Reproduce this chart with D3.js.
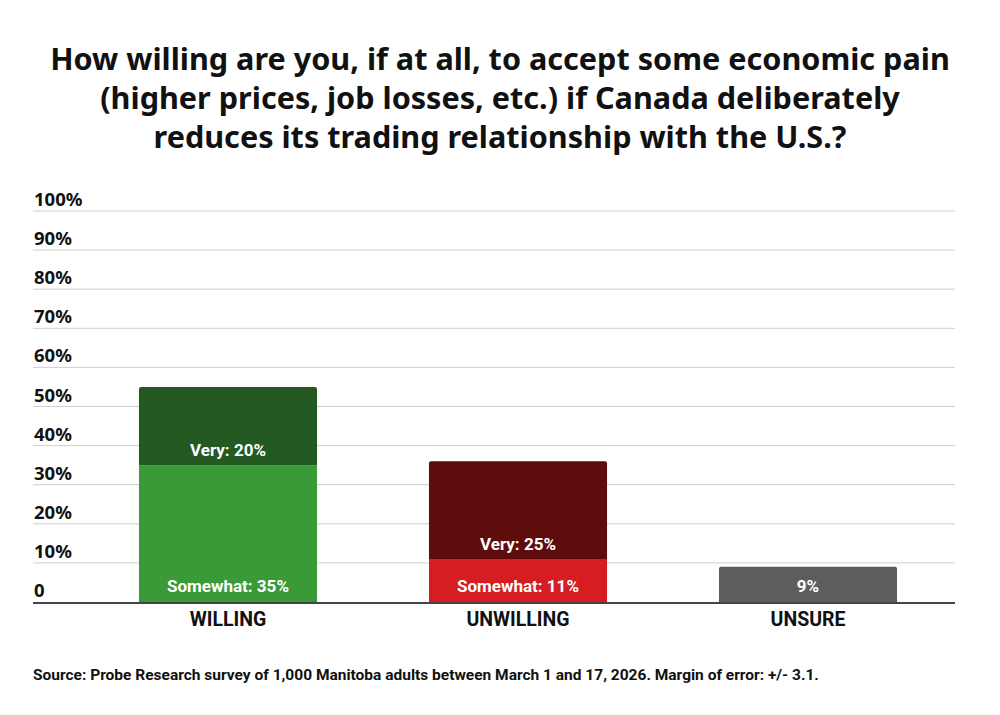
<!DOCTYPE html>
<meta charset="utf-8">
<title>Economic pain</title>
<script src="https://d3js.org/d3.v7.min.js"></script>
<style>
    body { margin: 0; background: #fff; }
    .title { font-family: "Noto Sans", sans-serif; font-weight: 700; fill: #111; }
    .tick-label { font-family: "Noto Sans", sans-serif; font-weight: 700; font-size: 18.5px; fill: #111; }
    .cat-label { font-family: Roboto, sans-serif; font-weight: 700; font-size: 19.5px; fill: #111; }
    .bar-label { font-family: Roboto, sans-serif; font-weight: 700; font-size: 17px; fill: #fff; }
    .source { font-family: Roboto, sans-serif; font-weight: 700; font-size: 15.5px; fill: #111; }
</style>
<body>
<div id="chart"></div>
<script>
    // data
    var categories = ["WILLING", "UNWILLING", "UNSURE"];
    var somewhat = [35, 11, 9];
    var very = [20, 25, 0];
    var somewhatLabels = ["Somewhat: 35%", "Somewhat: 11%", "9%"];
    var veryLabels = ["Very: 20%", "Very: 25%", ""];
    var yTicks = [0, 10, 20, 30, 40, 50, 60, 70, 80, 90, 100];
    var titleLines = [
        "How willing are you, if at all, to accept some economic pain",
        "(higher prices, job losses, etc.) if Canada deliberately",
        "reduces its trading relationship with the U.S.?"
    ];
    var sourceText = "Source: Probe Research survey of 1,000 Manitoba adults between March 1 and 17, 2026. Margin of error: +/- 3.1.";

    var somewhatColors = ["#3a9a38", "#d61d22", "#5d5d5d"];
    var veryColors = ["#245a22", "#5f0c0c", "#5d5d5d"];

    var W = 1000, H = 715;
    var svg = d3.select("#chart").append("svg")
        .attr("width", W).attr("height", H);

    // title
    var title = svg.append("g");
    titleLines.forEach(function(t, i) {
        title.append("text")
            .attr("class", "title")
            .attr("x", W / 2)
            .attr("y", 70 + i * 39)
            .attr("text-anchor", "middle")
            .style("font-size", "30px")
            .text(t);
    });
    // fit first line to ~900px like the reference
    var firstW = title.select("text").node().getComputedTextLength();
    var fs = 30 * 900 / firstW;
    title.selectAll("text").style("font-size", fs + "px");

    var gridLeft = 33, gridRight = 955;
    var y = d3.scaleLinear().domain([0, 100]).range([602, 211]);
    var x = d3.scaleBand()
        .domain(categories)
        .range([83, 953])
        .paddingInner(0.386)
        .paddingOuter(0.193);

    // gridlines + labels
    svg.append("g").selectAll("line")
        .data(yTicks.filter(function(d) { return d > 0; }))
        .enter().append("line")
        .attr("x1", gridLeft).attr("x2", gridRight)
        .attr("y1", function(d) { return y(d); })
        .attr("y2", function(d) { return y(d); })
        .attr("stroke", "#cfcfcf")
        .attr("stroke-width", 1);

    svg.append("g").selectAll("text")
        .data(yTicks)
        .enter().append("text")
        .attr("class", "tick-label")
        .attr("x", 34)
        .attr("y", function(d) { return y(d) - 5; })
        .text(function(d) { return d === 0 ? "0" : d + "%"; });

    // bars
    var rows = categories.map(function(c, i) {
        return { cat: c, s: somewhat[i], v: very[i], i: i };
    });

    // path for a bar segment with slightly rounded top corners
    function topRounded(x0, x1, top, bottom, r) {
        return "M" + x0 + "," + bottom + "V" + (top + r) + "Q" + x0 + "," + top + " " + (x0 + r) + "," + top +
            "H" + (x1 - r) + "Q" + x1 + "," + top + " " + x1 + "," + (top + r) + "V" + bottom + "Z";
    }

    var bars = svg.append("g");
    rows.forEach(function(d) {
        var top = y(d.s + d.v);
        var x0 = x(d.cat), x1 = x(d.cat) + x.bandwidth();
        if (d.v > 0) {
            bars.append("path")
                .attr("d", topRounded(x0, x1, top, y(d.s), 2))
                .attr("fill", veryColors[d.i]);
            bars.append("rect")
                .attr("x", x0).attr("width", x.bandwidth())
                .attr("y", y(d.s)).attr("height", y(0) - y(d.s))
                .attr("fill", somewhatColors[d.i]);
        } else {
            bars.append("path")
                .attr("d", topRounded(x0, x1, top, y(0), 2))
                .attr("fill", somewhatColors[d.i]);
        }
        bars.append("text")
            .attr("class", "bar-label")
            .attr("x", x0 + x.bandwidth() / 2)
            .attr("y", y(0) - 10)
            .attr("text-anchor", "middle")
            .text(somewhatLabels[d.i]);
        if (d.v > 0) {
            bars.append("text")
                .attr("class", "bar-label")
                .attr("x", x0 + x.bandwidth() / 2)
                .attr("y", y(d.s) - 9)
                .attr("text-anchor", "middle")
                .text(veryLabels[d.i]);
        }
    });

    // baseline
    svg.append("line")
        .attr("x1", gridLeft).attr("x2", gridRight)
        .attr("y1", y(0) + 1).attr("y2", y(0) + 1)
        .attr("stroke", "#444").attr("stroke-width", 2);

    // category labels
    svg.append("g").selectAll("text")
        .data(categories)
        .enter().append("text")
        .attr("class", "cat-label")
        .attr("x", function(d) { return x(d) + x.bandwidth() / 2; })
        .attr("y", 626)
        .attr("text-anchor", "middle")
        .text(function(d) { return d; });

    svg.append("text")
        .attr("class", "source")
        .attr("x", 33)
        .attr("y", 680)
        .text(sourceText);
</script>
</body>
